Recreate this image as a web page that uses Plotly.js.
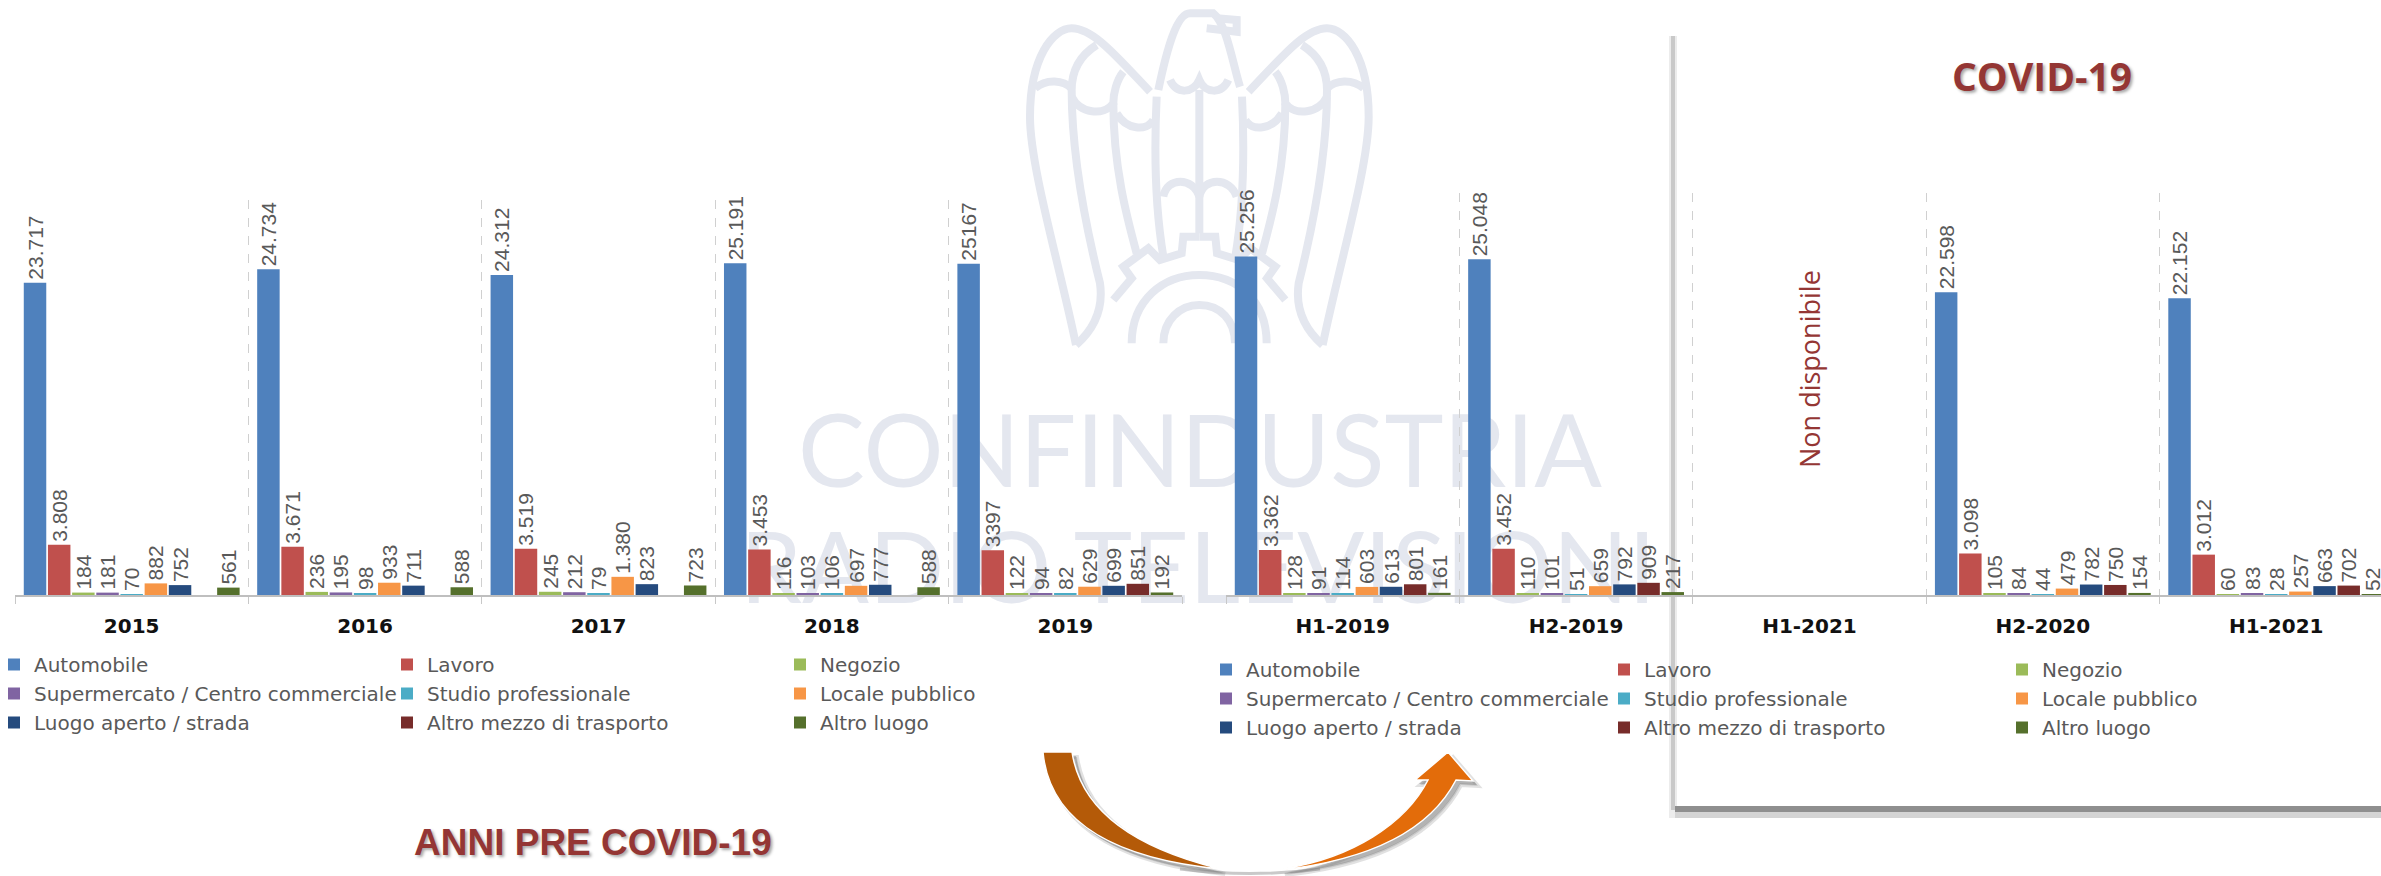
<!DOCTYPE html>
<html><head><meta charset="utf-8">
<script src="https://cdn.plot.ly/plotly-3.0.1.min.js"></script>
<style>html,body{margin:0;padding:0;background:#fff;overflow:hidden}</style></head>
<body><div id="chart" style="width:2381px;height:876px"></div>
<script>
// ---- data ----
const seriesNames = ["Automobile","Lavoro","Negozio","Supermercato / Centro commerciale","Studio professionale","Locale pubblico","Luogo aperto / strada","Altro mezzo di trasporto","Altro luogo"];
const seriesColors = ["#4F81BD","#C0504D","#9BBB59","#8064A2","#4BACC6","#F79646","#254B7E","#772C2A","#55702C"];

const preCovidLabels = ["2015","2016","2017","2018","2019"];
const pre_automobile = [23717,24734,24312,25191,25167];
const pre_lavoro     = [3808,3671,3519,3453,3397];
const pre_negozio    = [184,236,245,116,122];
const pre_super      = [181,195,212,103,94];
const pre_studio     = [70,98,79,106,82];
const pre_locale     = [882,933,1380,697,629];
const pre_luogo      = [752,711,823,777,699];
const pre_mezzo      = [null,null,null,null,851];
const pre_altro      = [561,588,723,588,192];

const covidLabels = ["H1-2019","H2-2019","H1-2021","H2-2020","H1-2021"];
const cov_automobile = [25256,25048,null,22598,22152];
const cov_lavoro     = [3362,3452,null,3098,3012];
const cov_negozio    = [128,110,null,105,60];
const cov_super      = [91,101,null,84,83];
const cov_studio     = [114,51,null,44,28];
const cov_locale     = [603,659,null,479,257];
const cov_luogo      = [613,792,null,782,663];
const cov_mezzo      = [801,909,null,750,702];
const cov_altro      = [161,217,null,154,52];

// values printed without a thousands separator in the original
const plainLabels = [25167,3397];

// ---- helpers ----
const W=2381,H=876;
const fx=p=>p/W, fy=p=>1-p/H;
const fmt=v=>v==null?"":(v>=1000&&!plainLabels.includes(v)?String(v).replace(/(\d)(\d{3})$/,"$1.$2"):String(v));
const idx=a=>a.map((_,i)=>i);

function makeTraces(groups,xa,ya,legendOf){
  return groups.map((vals,i)=>({
    type:"bar",name:seriesNames[i],x:idx(vals),y:vals,xaxis:xa,yaxis:ya,legend:legendOf(i),
    marker:{color:seriesColors[i]},
    text:vals.map(fmt),textposition:"outside",textangle:-90,constraintext:"none",cliponaxis:false,
    textfont:{family:"'Liberation Sans',sans-serif",size:21,color:"#595959"},
    hoverinfo:"x+y+name"
  }));
}
const covidLegendColumns=["legend2","legend3","legend4"];
const traces=[
  ...makeTraces([pre_automobile,pre_lavoro,pre_negozio,pre_super,pre_studio,pre_locale,pre_luogo,pre_mezzo,pre_altro],"x","y",()=>"legend"),
  ...makeTraces([cov_automobile,cov_lavoro,cov_negozio,cov_super,cov_studio,cov_locale,cov_luogo,cov_mezzo,cov_altro],"x2","y2",i=>covidLegendColumns[i%3])
];

function xAxis(labels,x0,x1,end,anchor){
  const bounds=[];for(let i=0;i<=labels.length;i++)bounds.push(i-0.5);
  return {domain:[fx(x0),fx(x1)],range:[-0.5,end],anchor:anchor,
    tickmode:"array",tickvals:idx(labels),ticktext:labels,ticks:"",showgrid:false,zeroline:false,
    tickfont:{family:"'DejaVu Sans',sans-serif",size:20,color:"#111",weight:700},ticklabelstandoff:12,
    showline:true,linecolor:"#bfbfbf",linewidth:2,
    minor:{tickmode:"array",tickvals:bounds,ticks:"outside",ticklen:7,tickcolor:"#c8c8c8",tickwidth:1,
           showgrid:true,gridcolor:"#d0d0d0",griddash:"dash",gridwidth:1}};
}

// ---- decoration (watermark, panel, arrow) in page pixels ----
const wm="#e4e7ef";
const eagleSrc=[
 "M378,1035 C330,800 240,500 240,350 C240,170 310,85 365,85 C430,85 500,170 600,275",
 "M378,1035 C440,980 460,920 450,850 C400,650 365,450 365,270 C365,200 400,160 440,135",
 "M255,265 C290,235 340,240 365,265",
 "M365,290 C390,340 460,350 490,310 C490,280 500,240 520,215",
 "M490,310 C490,500 530,650 560,760",
 "M500,340 C530,390 590,395 610,360",
 "M620,290 C610,500 620,650 640,770",
 "M490,900 L545,835 L520,800 L595,745 L630,780 L695,760 L700,710 L748,710"
];
const eagleCentre=[
 "M625,270 C650,150 680,40 720,40 L790,40 C830,70 850,200 870,260",
 "M770,85 L860,95 L860,60 L800,55",
 "M660,240 C680,285 730,280 748,240 C765,280 815,285 835,240",
 "M748,270 L748,700",
 "M640,590 C650,530 730,530 748,590 C760,530 840,530 860,590",
 "M545,1030 C545,900 640,825 748,825 C860,825 950,900 950,1030",
 "M640,1030 C640,960 690,915 748,915 C810,915 855,960 855,1030"
];
function conv(path,mirror){
  return path.replace(/(-?[\d.]+),(-?[\d.]+)/g,(m,a,b)=>{
    let x=+a; if(mirror)x=1496-x;
    return fx(950+x/3).toFixed(5)+","+fy(+b/3).toFixed(5);
  });
}
function pix(path){return path.replace(/(-?[\d.]+),(-?[\d.]+)/g,(m,a,b)=>fx(+a).toFixed(5)+","+fy(+b).toFixed(5));}
const shapes=[];
const wmShape=p=>({type:"path",xref:"paper",yref:"paper",path:p,layer:"below",line:{color:wm,width:8},fillcolor:"rgba(0,0,0,0)"});
eagleSrc.forEach(p=>{shapes.push(wmShape(conv(p,false)));shapes.push(wmShape(conv(p,true)));});
eagleCentre.forEach(p=>shapes.push(wmShape(conv(p,false))));

// watermark words sit behind the bars, so they are shape labels in the lower layer
const wmWord=(t,cx,cy,size)=>({type:"rect",xref:"paper",yref:"paper",x0:fx(cx-500),x1:fx(cx+500),y0:fy(cy+60),y1:fy(cy-60),
  layer:"below",line:{width:0},fillcolor:"rgba(0,0,0,0)",
  label:{text:t,textposition:"middle center",font:{family:"Lato,sans-serif",size:size,color:wm,weight:400}}});
shapes.push(wmWord("CONFINDUSTRIA",1200,447,100),wmWord("RADIO TELEVISIONI",1198,563,99));

// COVID panel edges
const rect=(x0,y0,x1,y1,c,layer)=>({type:"rect",xref:"paper",yref:"paper",x0:fx(x0),x1:fx(x1),y0:fy(y1),y1:fy(y0),fillcolor:c,line:{width:0},layer:layer||"below"});
shapes.push(rect(1669,36,1677,818,"#ececec"),rect(1671,36,1675,810,"#c9c9c9"),
            rect(1675,812,2381,818,"#d4d4d4"),rect(1675,806,2381,812,"#8f8f8f"));

// curved arrow
const darkArrow="M1043,752 L1072,752 C1080,805 1125,845 1217,868 L1220,869 C1130,860 1050,830 1043,752 Z";
const orangeArrow="M1428,780 L1415,780 L1448,752 L1473,781 L1456,780 C1430,830 1370,860 1280,870 L1287,868 C1350,858 1405,825 1428,780 Z";
const underArc="M1180,869 Q1250,878 1320,869";
const shift=(p,d)=>p.replace(/(-?[\d.]+),(-?[\d.]+)/g,(m,a,b)=>(+a+d)+","+(+b+d));
[[5,"rgba(120,120,120,.22)",4],[4,"rgba(110,110,110,.4)",0]].forEach(([d,c,lw])=>{
  [darkArrow,orangeArrow].forEach(p=>shapes.push({type:"path",xref:"paper",yref:"paper",path:pix(shift(p,d)),fillcolor:c,line:{width:lw,color:c},layer:"below"}));
});
shapes.push({type:"path",xref:"paper",yref:"paper",path:pix(underArc),fillcolor:"rgba(0,0,0,0)",line:{color:"rgba(120,120,120,.4)",width:3},layer:"below"});
shapes.push({type:"path",xref:"paper",yref:"paper",path:pix(darkArrow),fillcolor:"#B45A08",line:{color:"#fff",width:1.5},layer:"above"});
shapes.push({type:"path",xref:"paper",yref:"paper",path:pix(orangeArrow),fillcolor:"#E36C0A",line:{color:"#fff",width:1.5},layer:"above"});

const note=(text,x,y,font,extra)=>Object.assign({text:text,xref:"paper",yref:"paper",x:fx(x),y:fy(y),xanchor:"center",yanchor:"middle",showarrow:false,font:font},extra||{});
const red="#943634";
const annotations=[
  note("COVID-19",2042,75,{family:"'Open Sans',sans-serif",size:39,color:red,weight:700,shadow:"2px 2px 3px #aaa"}),
  note("ANNI PRE COVID-19",593,842,{family:"'Liberation Sans',sans-serif",size:37,color:red,weight:700,shadow:"2px 2px 3px #aaa"}),
  note("Non disponibile",1809,369,{family:"'Open Sans',sans-serif",size:27,color:red},{textangle:-90})
];

const legendFont={family:"'DejaVu Sans',sans-serif",size:20,color:"#595959"};
const column=x=>({orientation:"v",x:fx(x),xanchor:"left",y:fy(650),yanchor:"top",font:legendFont,bgcolor:"rgba(0,0,0,0)",traceorder:"normal"});
const layout={
  width:W,height:H,margin:{l:0,r:0,t:0,b:0,autoexpand:false},paper_bgcolor:"#fff",plot_bgcolor:"rgba(0,0,0,0)",
  barmode:"group",bargap:0.068,bargroupgap:0.07,showlegend:true,
  xaxis:xAxis(preCovidLabels,15,1182,4.5,"y"),
  xaxis2:xAxis(covidLabels,1226,2381,4.449,"y2"),
  yaxis:{domain:[fy(595),fy(200)],range:[0,30000],visible:false,anchor:"x"},
  yaxis2:{domain:[fy(595),fy(193)],range:[0,30000],visible:false,anchor:"x2"},
  legend:{orientation:"h",x:fx(-6),xanchor:"left",y:fy(645),yanchor:"top",entrywidth:348,entrywidthmode:"pixels",
          font:legendFont,bgcolor:"rgba(0,0,0,0)",traceorder:"normal"},
  legend2:column(1206),legend3:column(1604),legend4:column(2002),
  shapes:shapes,annotations:annotations
};
Plotly.newPlot("chart",traces,layout,{displayModeBar:false,responsive:false});
</script></body></html>
